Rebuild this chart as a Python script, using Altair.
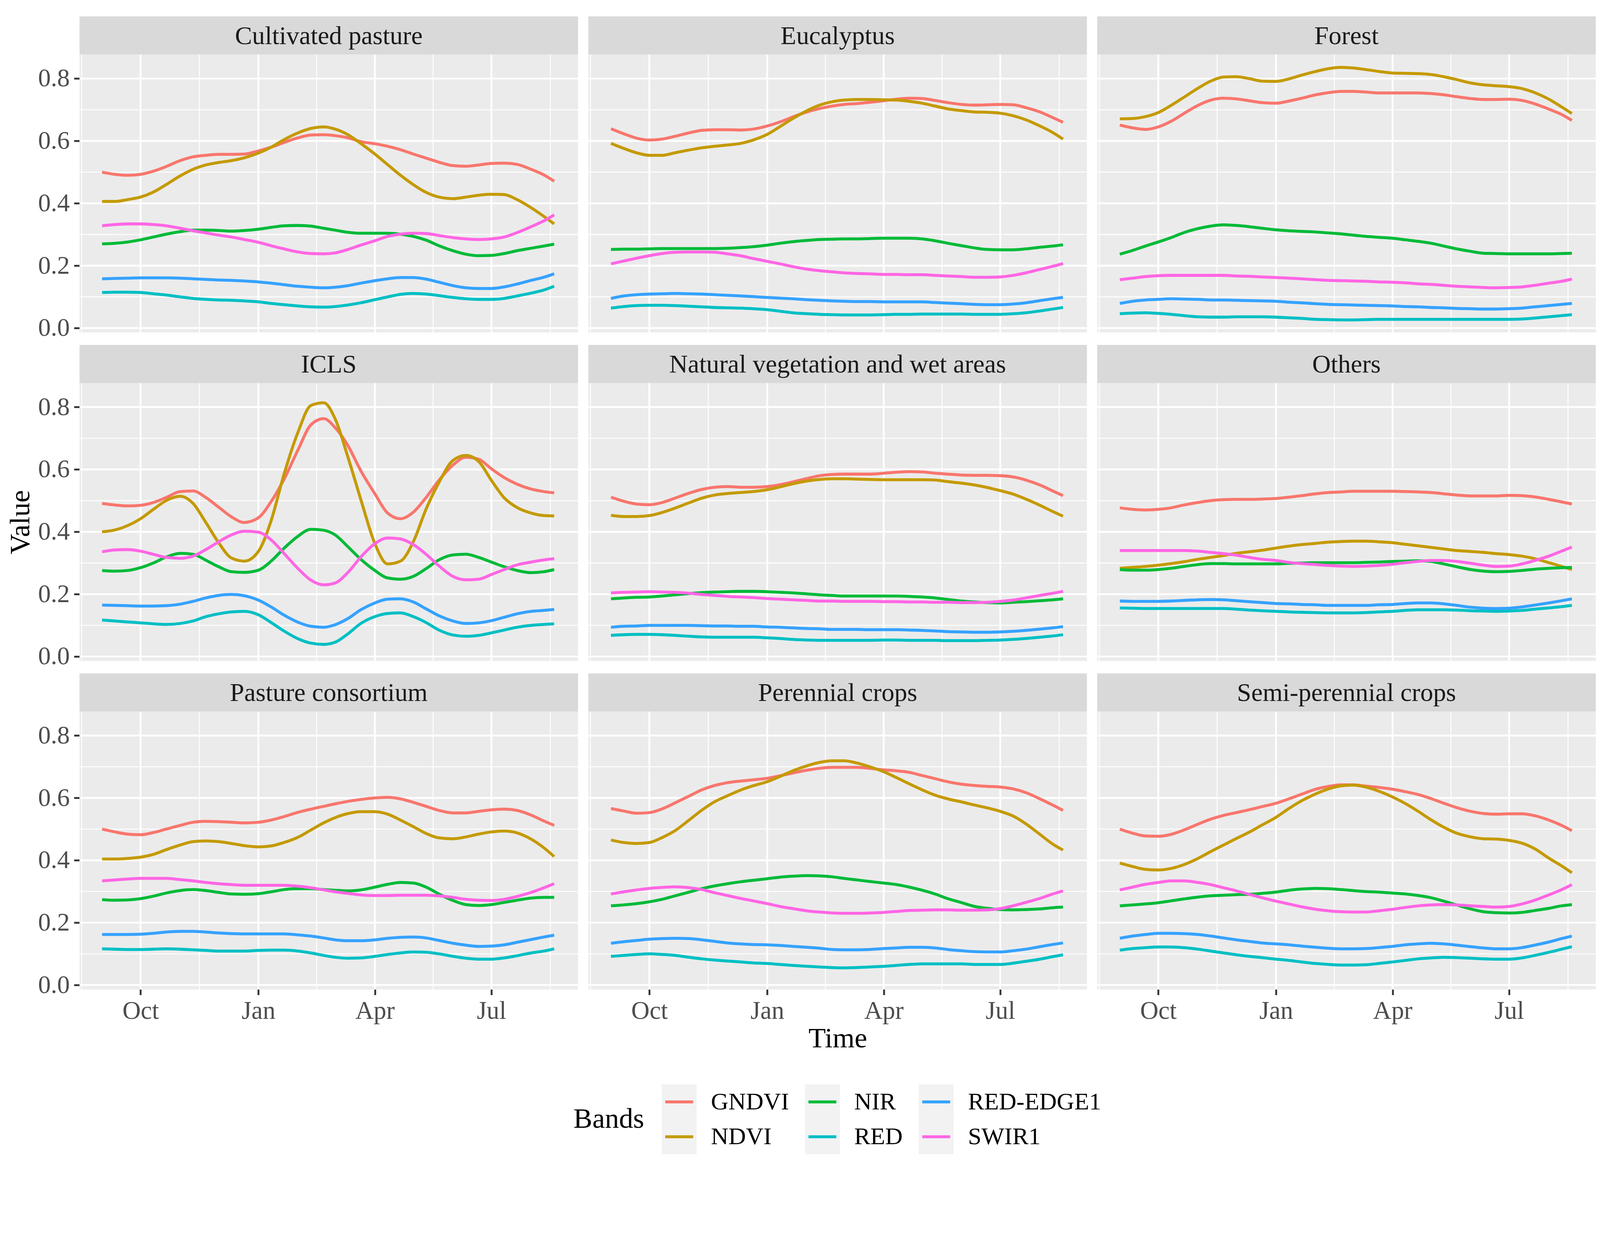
import altair as alt
import pandas as pd

FONT = "Liberation Serif"

DATES = [
    "2019-09-01", "2019-09-11", "2019-09-21", "2019-10-01", "2019-10-11", "2019-10-21",
    "2019-11-01", "2019-11-11", "2019-11-21", "2019-12-01", "2019-12-11", "2019-12-21",
    "2020-01-01", "2020-01-11", "2020-01-21", "2020-02-01", "2020-02-11", "2020-02-21",
    "2020-03-01", "2020-03-11", "2020-03-21", "2020-04-01", "2020-04-11", "2020-04-21",
    "2020-05-01", "2020-05-11", "2020-05-21", "2020-06-01", "2020-06-11", "2020-06-21",
    "2020-07-01", "2020-07-11", "2020-07-21", "2020-08-01", "2020-08-11", "2020-08-19",
]

BANDS = ["GNDVI", "NDVI", "NIR", "RED", "RED-EDGE1", "SWIR1"]
COLORS = ["#F8766D", "#C49A00", "#00BA38", "#00BFC4", "#35A2FF", "#FF66E4"]

CLASSES = [
    "Cultivated pasture", "Eucalyptus", "Forest",
    "ICLS", "Natural vegetation and wet areas", "Others",
    "Pasture consortium", "Perennial crops", "Semi-perennial crops",
]

Y_MAJOR = [0.0, 0.2, 0.4, 0.6, 0.8]
Y_MINOR = [0.1, 0.3, 0.5, 0.7]
Y_LABELS = [0.0, 0.2, 0.4, 0.6, 0.8]
X_MAJOR = ["2019-10-01", "2020-01-01", "2020-04-01", "2020-07-01"]
X_MINOR = ["2019-08-16", "2019-11-16", "2020-02-15T12:00:00Z", "2020-05-16T12:00:00Z", "2020-08-16"]

CULTIVATED_PASTURE = {
    "GNDVI": [0.500, 0.493, 0.490, 0.493, 0.503, 0.518, 0.537, 0.549, 0.554, 0.557, 0.557, 0.558,
              0.568, 0.580, 0.595, 0.610, 0.619, 0.620, 0.617, 0.610, 0.598, 0.591, 0.583, 0.572,
              0.558, 0.545, 0.532, 0.521, 0.519, 0.523, 0.528, 0.529, 0.525, 0.509, 0.491, 0.471],
    "NDVI": [0.406, 0.406, 0.412, 0.420, 0.436, 0.460, 0.488, 0.509, 0.523, 0.531, 0.537, 0.546,
             0.561, 0.580, 0.604, 0.626, 0.640, 0.645, 0.638, 0.620, 0.592, 0.558, 0.524, 0.490,
             0.460, 0.435, 0.420, 0.415, 0.420, 0.426, 0.429, 0.428, 0.412, 0.386, 0.358, 0.334],
    "NIR": [0.270, 0.272, 0.276, 0.283, 0.292, 0.301, 0.309, 0.314, 0.314, 0.313, 0.311, 0.313,
            0.317, 0.323, 0.328, 0.329, 0.327, 0.320, 0.314, 0.307, 0.304, 0.304, 0.304, 0.301,
            0.294, 0.282, 0.264, 0.248, 0.237, 0.232, 0.233, 0.239, 0.248, 0.256, 0.263, 0.269],
    "RED": [0.114, 0.115, 0.115, 0.114, 0.110, 0.106, 0.100, 0.095, 0.092, 0.090, 0.089, 0.087,
            0.084, 0.079, 0.075, 0.071, 0.068, 0.067, 0.069, 0.074, 0.081, 0.091, 0.100, 0.108,
            0.111, 0.109, 0.104, 0.098, 0.094, 0.092, 0.092, 0.095, 0.103, 0.112, 0.122, 0.134],
    "RED-EDGE1": [0.158, 0.159, 0.160, 0.161, 0.161, 0.161, 0.160, 0.158, 0.156, 0.154, 0.153, 0.151,
                  0.148, 0.144, 0.139, 0.134, 0.131, 0.129, 0.131, 0.136, 0.144, 0.152, 0.158, 0.162,
                  0.162, 0.157, 0.147, 0.136, 0.129, 0.127, 0.127, 0.132, 0.141, 0.153, 0.163, 0.174],
    "SWIR1": [0.328, 0.332, 0.334, 0.334, 0.332, 0.328, 0.320, 0.312, 0.305, 0.298, 0.292, 0.284,
              0.275, 0.264, 0.254, 0.244, 0.239, 0.238, 0.241, 0.252, 0.266, 0.280, 0.294, 0.301,
              0.304, 0.303, 0.297, 0.290, 0.286, 0.284, 0.286, 0.292, 0.306, 0.325, 0.344, 0.363],
}

EUCALYPTUS = {
    "GNDVI": [0.639, 0.623, 0.609, 0.603, 0.606, 0.615, 0.626, 0.634, 0.636, 0.636, 0.635, 0.638,
              0.648, 0.661, 0.677, 0.693, 0.704, 0.712, 0.717, 0.720, 0.724, 0.729, 0.734, 0.737,
              0.736, 0.730, 0.723, 0.717, 0.715, 0.716, 0.717, 0.716, 0.707, 0.693, 0.675, 0.660],
    "NDVI": [0.592, 0.576, 0.562, 0.554, 0.554, 0.562, 0.571, 0.578, 0.583, 0.587, 0.592, 0.603,
             0.621, 0.646, 0.672, 0.697, 0.715, 0.726, 0.731, 0.733, 0.733, 0.732, 0.731, 0.727,
             0.721, 0.712, 0.703, 0.697, 0.693, 0.692, 0.689, 0.681, 0.668, 0.648, 0.627, 0.606],
    "NIR": [0.252, 0.253, 0.253, 0.254, 0.255, 0.255, 0.255, 0.255, 0.255, 0.256, 0.258, 0.261,
            0.266, 0.272, 0.277, 0.281, 0.284, 0.285, 0.286, 0.286, 0.287, 0.288, 0.288, 0.288,
            0.286, 0.280, 0.272, 0.264, 0.257, 0.252, 0.251, 0.251, 0.254, 0.259, 0.263, 0.267],
    "RED": [0.064, 0.069, 0.072, 0.073, 0.073, 0.072, 0.070, 0.068, 0.066, 0.065, 0.064, 0.062,
            0.059, 0.054, 0.049, 0.046, 0.044, 0.043, 0.042, 0.042, 0.042, 0.043, 0.044, 0.044,
            0.045, 0.045, 0.045, 0.045, 0.044, 0.044, 0.044, 0.046, 0.049, 0.055, 0.061, 0.066],
    "RED-EDGE1": [0.095, 0.103, 0.107, 0.109, 0.110, 0.111, 0.110, 0.109, 0.107, 0.105, 0.103, 0.101,
                  0.098, 0.096, 0.094, 0.091, 0.089, 0.087, 0.086, 0.085, 0.085, 0.084, 0.084, 0.084,
                  0.084, 0.082, 0.080, 0.078, 0.076, 0.075, 0.075, 0.077, 0.081, 0.088, 0.094, 0.098],
    "SWIR1": [0.206, 0.215, 0.224, 0.232, 0.239, 0.243, 0.244, 0.244, 0.243, 0.238, 0.232, 0.223,
              0.214, 0.206, 0.197, 0.189, 0.184, 0.180, 0.177, 0.175, 0.174, 0.172, 0.172, 0.171,
              0.171, 0.169, 0.167, 0.165, 0.163, 0.163, 0.164, 0.169, 0.177, 0.188, 0.198, 0.207],
}

FOREST = {
    "GNDVI": [0.651, 0.642, 0.637, 0.645, 0.663, 0.688, 0.714, 0.731, 0.737, 0.735, 0.729, 0.723,
              0.721, 0.728, 0.737, 0.748, 0.755, 0.759, 0.759, 0.757, 0.754, 0.754, 0.754, 0.754,
              0.752, 0.748, 0.742, 0.736, 0.733, 0.733, 0.734, 0.730, 0.719, 0.702, 0.685, 0.666],
    "NDVI": [0.671, 0.672, 0.678, 0.691, 0.714, 0.740, 0.769, 0.792, 0.805, 0.806, 0.800, 0.792,
             0.791, 0.799, 0.811, 0.823, 0.832, 0.836, 0.834, 0.829, 0.823, 0.818, 0.817, 0.816,
             0.813, 0.806, 0.797, 0.786, 0.780, 0.777, 0.774, 0.768, 0.755, 0.734, 0.709, 0.688],
    "NIR": [0.237, 0.249, 0.263, 0.276, 0.290, 0.306, 0.319, 0.327, 0.331, 0.329, 0.325, 0.320,
            0.315, 0.312, 0.310, 0.308, 0.305, 0.302, 0.298, 0.294, 0.291, 0.288, 0.283, 0.278,
            0.272, 0.263, 0.254, 0.246, 0.240, 0.239, 0.238, 0.238, 0.238, 0.238, 0.239, 0.240],
    "RED": [0.046, 0.048, 0.049, 0.047, 0.044, 0.040, 0.036, 0.035, 0.035, 0.036, 0.036, 0.036,
            0.035, 0.033, 0.031, 0.028, 0.027, 0.026, 0.026, 0.027, 0.028, 0.028, 0.028, 0.028,
            0.028, 0.028, 0.028, 0.028, 0.028, 0.028, 0.028, 0.029, 0.032, 0.036, 0.040, 0.043],
    "RED-EDGE1": [0.079, 0.086, 0.090, 0.092, 0.094, 0.093, 0.092, 0.090, 0.090, 0.089, 0.088, 0.087,
                  0.086, 0.083, 0.081, 0.078, 0.076, 0.075, 0.074, 0.073, 0.072, 0.071, 0.069, 0.068,
                  0.066, 0.065, 0.063, 0.062, 0.061, 0.061, 0.062, 0.064, 0.068, 0.072, 0.076, 0.079],
    "SWIR1": [0.155, 0.160, 0.165, 0.168, 0.169, 0.169, 0.169, 0.169, 0.169, 0.167, 0.166, 0.164,
              0.162, 0.160, 0.158, 0.155, 0.153, 0.152, 0.151, 0.150, 0.148, 0.147, 0.145, 0.142,
              0.140, 0.137, 0.134, 0.132, 0.130, 0.129, 0.130, 0.132, 0.137, 0.144, 0.150, 0.157],
}

ICLS = {
    "GNDVI": [0.491, 0.486, 0.483, 0.485, 0.494, 0.510, 0.529, 0.531, 0.510, 0.479, 0.448, 0.430,
              0.445, 0.497, 0.568, 0.663, 0.743, 0.763, 0.734, 0.676, 0.596, 0.522, 0.460, 0.442,
              0.463, 0.510, 0.565, 0.614, 0.639, 0.633, 0.602, 0.574, 0.553, 0.537, 0.529, 0.525],
    "NDVI": [0.400, 0.406, 0.420, 0.442, 0.472, 0.500, 0.514, 0.491, 0.430, 0.365, 0.316, 0.306,
             0.337, 0.436, 0.584, 0.720, 0.805, 0.814, 0.762, 0.639, 0.504, 0.362, 0.297, 0.306,
             0.368, 0.473, 0.558, 0.629, 0.645, 0.626, 0.565, 0.509, 0.478, 0.460, 0.452, 0.451],
    "NIR": [0.276, 0.274, 0.276, 0.285, 0.300, 0.319, 0.331, 0.328, 0.309, 0.288, 0.272, 0.270,
            0.277, 0.306, 0.347, 0.386, 0.408, 0.405, 0.390, 0.352, 0.312, 0.276, 0.252, 0.248,
            0.257, 0.282, 0.310, 0.326, 0.328, 0.318, 0.303, 0.288, 0.276, 0.269, 0.272, 0.279],
    "RED": [0.117, 0.114, 0.111, 0.108, 0.105, 0.103, 0.106, 0.114, 0.128, 0.137, 0.143, 0.145,
            0.134, 0.109, 0.082, 0.057, 0.043, 0.039, 0.046, 0.073, 0.106, 0.128, 0.138, 0.140,
            0.128, 0.109, 0.085, 0.069, 0.065, 0.068, 0.076, 0.085, 0.094, 0.100, 0.103, 0.105],
    "RED-EDGE1": [0.165, 0.164, 0.163, 0.162, 0.162, 0.163, 0.168, 0.177, 0.188, 0.196, 0.199, 0.195,
                  0.181, 0.159, 0.133, 0.110, 0.097, 0.094, 0.102, 0.122, 0.150, 0.172, 0.184, 0.185,
                  0.175, 0.153, 0.131, 0.114, 0.106, 0.108, 0.115, 0.126, 0.137, 0.145, 0.148, 0.151],
    "SWIR1": [0.336, 0.342, 0.343, 0.338, 0.328, 0.318, 0.315, 0.322, 0.343, 0.368, 0.390, 0.402,
              0.399, 0.374, 0.331, 0.282, 0.245, 0.230, 0.236, 0.270, 0.319, 0.362, 0.380, 0.377,
              0.359, 0.328, 0.291, 0.257, 0.246, 0.248, 0.263, 0.279, 0.294, 0.303, 0.310, 0.314],
}

NATURAL_VEGETATION = {
    "GNDVI": [0.511, 0.498, 0.489, 0.487, 0.494, 0.508, 0.524, 0.536, 0.543, 0.545, 0.543, 0.543,
              0.545, 0.551, 0.560, 0.571, 0.580, 0.584, 0.585, 0.585, 0.585, 0.588, 0.591, 0.593,
              0.592, 0.588, 0.585, 0.582, 0.581, 0.581, 0.580, 0.576, 0.566, 0.550, 0.531, 0.516],
    "NDVI": [0.453, 0.449, 0.449, 0.452, 0.462, 0.476, 0.493, 0.508, 0.518, 0.523, 0.526, 0.529,
             0.535, 0.544, 0.554, 0.563, 0.568, 0.570, 0.570, 0.569, 0.568, 0.567, 0.567, 0.567,
             0.567, 0.566, 0.561, 0.556, 0.550, 0.542, 0.532, 0.521, 0.505, 0.485, 0.465, 0.450],
    "NIR": [0.185, 0.188, 0.190, 0.191, 0.194, 0.198, 0.202, 0.205, 0.207, 0.208, 0.209, 0.209,
            0.208, 0.206, 0.204, 0.201, 0.198, 0.196, 0.194, 0.194, 0.194, 0.194, 0.194, 0.193,
            0.191, 0.188, 0.183, 0.178, 0.175, 0.173, 0.172, 0.174, 0.176, 0.179, 0.182, 0.185],
    "RED": [0.068, 0.070, 0.071, 0.071, 0.070, 0.068, 0.065, 0.063, 0.062, 0.062, 0.062, 0.062,
            0.060, 0.058, 0.055, 0.053, 0.052, 0.052, 0.052, 0.052, 0.052, 0.053, 0.053, 0.052,
            0.052, 0.052, 0.051, 0.051, 0.051, 0.052, 0.053, 0.055, 0.058, 0.062, 0.066, 0.070],
    "RED-EDGE1": [0.094, 0.097, 0.098, 0.100, 0.100, 0.100, 0.100, 0.099, 0.098, 0.098, 0.097, 0.097,
                  0.095, 0.094, 0.092, 0.090, 0.089, 0.087, 0.087, 0.087, 0.086, 0.086, 0.086, 0.085,
                  0.084, 0.082, 0.080, 0.079, 0.078, 0.078, 0.079, 0.081, 0.084, 0.088, 0.092, 0.096],
    "SWIR1": [0.204, 0.206, 0.207, 0.208, 0.207, 0.206, 0.203, 0.199, 0.196, 0.193, 0.191, 0.189,
              0.186, 0.184, 0.182, 0.180, 0.178, 0.178, 0.177, 0.177, 0.177, 0.176, 0.176, 0.175,
              0.175, 0.174, 0.174, 0.173, 0.173, 0.174, 0.177, 0.181, 0.188, 0.196, 0.203, 0.209],
}

OTHERS = {
    "GNDVI": [0.477, 0.472, 0.470, 0.472, 0.477, 0.486, 0.494, 0.500, 0.503, 0.504, 0.504, 0.505,
              0.507, 0.511, 0.516, 0.522, 0.526, 0.528, 0.530, 0.530, 0.530, 0.530, 0.529, 0.528,
              0.526, 0.522, 0.518, 0.515, 0.515, 0.515, 0.517, 0.516, 0.512, 0.504, 0.496, 0.489],
    "NDVI": [0.283, 0.286, 0.289, 0.293, 0.298, 0.304, 0.312, 0.318, 0.324, 0.331, 0.336, 0.341,
             0.348, 0.354, 0.359, 0.363, 0.367, 0.369, 0.370, 0.370, 0.368, 0.365, 0.360, 0.355,
             0.350, 0.345, 0.340, 0.337, 0.334, 0.330, 0.327, 0.322, 0.314, 0.301, 0.289, 0.279],
    "NIR": [0.279, 0.277, 0.277, 0.279, 0.283, 0.289, 0.295, 0.298, 0.298, 0.297, 0.297, 0.297,
            0.297, 0.299, 0.300, 0.301, 0.301, 0.301, 0.301, 0.302, 0.303, 0.305, 0.306, 0.307,
            0.305, 0.297, 0.288, 0.279, 0.274, 0.272, 0.273, 0.276, 0.280, 0.283, 0.285, 0.286],
    "RED": [0.156, 0.155, 0.154, 0.154, 0.154, 0.154, 0.154, 0.154, 0.154, 0.152, 0.149, 0.147,
            0.145, 0.143, 0.142, 0.141, 0.140, 0.140, 0.140, 0.141, 0.143, 0.145, 0.148, 0.150,
            0.150, 0.150, 0.149, 0.147, 0.146, 0.145, 0.146, 0.148, 0.152, 0.156, 0.160, 0.164],
    "RED-EDGE1": [0.178, 0.177, 0.177, 0.177, 0.178, 0.180, 0.182, 0.183, 0.182, 0.179, 0.176, 0.173,
                  0.170, 0.169, 0.167, 0.166, 0.164, 0.164, 0.164, 0.164, 0.166, 0.167, 0.170, 0.172,
                  0.172, 0.169, 0.164, 0.158, 0.155, 0.154, 0.155, 0.159, 0.165, 0.172, 0.179, 0.185],
    "SWIR1": [0.340, 0.340, 0.340, 0.340, 0.340, 0.340, 0.338, 0.334, 0.330, 0.325, 0.318, 0.312,
              0.308, 0.302, 0.298, 0.295, 0.292, 0.290, 0.289, 0.290, 0.292, 0.296, 0.301, 0.305,
              0.308, 0.308, 0.305, 0.299, 0.293, 0.289, 0.290, 0.297, 0.308, 0.322, 0.338, 0.351],
}

PASTURE_CONSORTIUM = {
    "GNDVI": [0.500, 0.491, 0.484, 0.482, 0.489, 0.500, 0.512, 0.522, 0.525, 0.524, 0.522, 0.520,
              0.522, 0.529, 0.540, 0.554, 0.564, 0.573, 0.581, 0.589, 0.595, 0.600, 0.602, 0.597,
              0.586, 0.573, 0.560, 0.552, 0.552, 0.557, 0.562, 0.564, 0.560, 0.545, 0.526, 0.512],
    "NDVI": [0.404, 0.404, 0.406, 0.410, 0.419, 0.434, 0.449, 0.460, 0.462, 0.460, 0.454, 0.447,
             0.443, 0.446, 0.457, 0.474, 0.497, 0.520, 0.537, 0.550, 0.556, 0.556, 0.548, 0.529,
             0.508, 0.486, 0.472, 0.469, 0.475, 0.484, 0.491, 0.494, 0.488, 0.468, 0.440, 0.412],
    "NIR": [0.274, 0.272, 0.273, 0.277, 0.285, 0.295, 0.303, 0.306, 0.303, 0.297, 0.292, 0.291,
            0.293, 0.299, 0.306, 0.309, 0.309, 0.306, 0.304, 0.302, 0.305, 0.314, 0.323, 0.329,
            0.327, 0.314, 0.292, 0.271, 0.258, 0.255, 0.258, 0.265, 0.272, 0.279, 0.281, 0.281],
    "RED": [0.116, 0.115, 0.114, 0.114, 0.115, 0.116, 0.115, 0.113, 0.111, 0.109, 0.109, 0.109,
            0.111, 0.112, 0.112, 0.109, 0.103, 0.095, 0.089, 0.086, 0.087, 0.092, 0.098, 0.103,
            0.106, 0.105, 0.100, 0.092, 0.086, 0.083, 0.083, 0.087, 0.094, 0.103, 0.109, 0.116],
    "RED-EDGE1": [0.162, 0.162, 0.162, 0.163, 0.166, 0.170, 0.172, 0.172, 0.170, 0.167, 0.165, 0.164,
                  0.164, 0.164, 0.164, 0.161, 0.157, 0.151, 0.145, 0.142, 0.142, 0.145, 0.150, 0.153,
                  0.154, 0.151, 0.143, 0.134, 0.128, 0.124, 0.125, 0.129, 0.137, 0.146, 0.154, 0.160],
    "SWIR1": [0.334, 0.337, 0.340, 0.342, 0.342, 0.342, 0.338, 0.334, 0.329, 0.325, 0.322, 0.320,
              0.320, 0.320, 0.320, 0.317, 0.312, 0.305, 0.299, 0.294, 0.289, 0.287, 0.287, 0.288,
              0.288, 0.288, 0.286, 0.281, 0.275, 0.272, 0.271, 0.275, 0.284, 0.297, 0.312, 0.325],
}

PERENNIAL_CROPS = {
    "GNDVI": [0.566, 0.558, 0.551, 0.553, 0.565, 0.584, 0.606, 0.626, 0.640, 0.649, 0.654, 0.658,
              0.663, 0.671, 0.680, 0.689, 0.695, 0.698, 0.698, 0.698, 0.695, 0.690, 0.687, 0.682,
              0.672, 0.662, 0.652, 0.644, 0.640, 0.637, 0.635, 0.629, 0.617, 0.597, 0.577, 0.560],
    "NDVI": [0.465, 0.457, 0.454, 0.457, 0.473, 0.495, 0.529, 0.561, 0.588, 0.607, 0.625, 0.639,
             0.652, 0.669, 0.687, 0.703, 0.714, 0.719, 0.719, 0.712, 0.700, 0.684, 0.665, 0.645,
             0.626, 0.609, 0.597, 0.587, 0.577, 0.568, 0.557, 0.542, 0.517, 0.483, 0.452, 0.433],
    "NIR": [0.254, 0.257, 0.261, 0.267, 0.275, 0.286, 0.298, 0.309, 0.318, 0.325, 0.331, 0.336,
            0.341, 0.346, 0.349, 0.351, 0.350, 0.347, 0.342, 0.337, 0.332, 0.327, 0.322, 0.314,
            0.304, 0.292, 0.277, 0.264, 0.252, 0.246, 0.242, 0.241, 0.242, 0.244, 0.248, 0.250],
    "RED": [0.092, 0.095, 0.098, 0.100, 0.098, 0.095, 0.089, 0.084, 0.080, 0.077, 0.074, 0.071,
            0.069, 0.066, 0.063, 0.060, 0.058, 0.056, 0.055, 0.056, 0.058, 0.060, 0.063, 0.066,
            0.068, 0.068, 0.068, 0.068, 0.066, 0.066, 0.066, 0.070, 0.076, 0.083, 0.091, 0.097],
    "RED-EDGE1": [0.134, 0.139, 0.143, 0.147, 0.149, 0.150, 0.149, 0.145, 0.140, 0.135, 0.132, 0.130,
                  0.129, 0.127, 0.124, 0.121, 0.118, 0.114, 0.113, 0.113, 0.114, 0.117, 0.119, 0.121,
                  0.121, 0.119, 0.114, 0.110, 0.107, 0.106, 0.106, 0.110, 0.115, 0.123, 0.130, 0.135],
    "SWIR1": [0.292, 0.299, 0.305, 0.310, 0.313, 0.315, 0.312, 0.306, 0.296, 0.287, 0.278, 0.270,
              0.261, 0.252, 0.245, 0.238, 0.234, 0.231, 0.230, 0.230, 0.231, 0.233, 0.236, 0.239,
              0.240, 0.241, 0.241, 0.240, 0.240, 0.241, 0.245, 0.254, 0.265, 0.278, 0.292, 0.302],
}

SEMI_PERENNIAL_CROPS = {
    "GNDVI": [0.500, 0.487, 0.478, 0.477, 0.483, 0.497, 0.516, 0.532, 0.544, 0.553, 0.562, 0.572,
              0.583, 0.597, 0.612, 0.628, 0.637, 0.642, 0.642, 0.638, 0.634, 0.628, 0.620, 0.611,
              0.598, 0.583, 0.569, 0.557, 0.550, 0.548, 0.549, 0.549, 0.543, 0.529, 0.512, 0.495],
    "NDVI": [0.391, 0.380, 0.371, 0.369, 0.374, 0.386, 0.406, 0.428, 0.449, 0.470, 0.490, 0.513,
             0.538, 0.566, 0.591, 0.613, 0.629, 0.639, 0.641, 0.635, 0.622, 0.603, 0.582, 0.557,
             0.530, 0.506, 0.487, 0.475, 0.469, 0.468, 0.464, 0.455, 0.437, 0.407, 0.382, 0.360],
    "NIR": [0.254, 0.257, 0.260, 0.264, 0.270, 0.276, 0.282, 0.286, 0.288, 0.290, 0.291, 0.294,
            0.298, 0.304, 0.308, 0.310, 0.309, 0.306, 0.303, 0.300, 0.298, 0.295, 0.292, 0.287,
            0.280, 0.269, 0.257, 0.244, 0.235, 0.232, 0.231, 0.233, 0.239, 0.246, 0.254, 0.258],
    "RED": [0.112, 0.117, 0.120, 0.122, 0.122, 0.120, 0.115, 0.109, 0.103, 0.097, 0.092, 0.088,
            0.083, 0.079, 0.074, 0.069, 0.066, 0.064, 0.064, 0.065, 0.069, 0.074, 0.079, 0.084,
            0.087, 0.089, 0.088, 0.086, 0.084, 0.083, 0.083, 0.087, 0.095, 0.105, 0.115, 0.123],
    "RED-EDGE1": [0.150, 0.157, 0.162, 0.166, 0.166, 0.165, 0.162, 0.157, 0.151, 0.145, 0.140, 0.135,
                  0.132, 0.129, 0.125, 0.121, 0.118, 0.116, 0.116, 0.117, 0.120, 0.124, 0.129, 0.132,
                  0.134, 0.132, 0.128, 0.123, 0.119, 0.116, 0.116, 0.120, 0.128, 0.138, 0.149, 0.157],
    "SWIR1": [0.305, 0.314, 0.323, 0.329, 0.334, 0.334, 0.329, 0.322, 0.312, 0.302, 0.291, 0.280,
              0.269, 0.260, 0.251, 0.243, 0.238, 0.235, 0.234, 0.234, 0.238, 0.243, 0.249, 0.254,
              0.257, 0.258, 0.257, 0.254, 0.252, 0.250, 0.252, 0.260, 0.272, 0.289, 0.306, 0.322],
}

SERIES_BY_CLASS = {
    "Cultivated pasture": CULTIVATED_PASTURE,
    "Eucalyptus": EUCALYPTUS,
    "Forest": FOREST,
    "ICLS": ICLS,
    "Natural vegetation and wet areas": NATURAL_VEGETATION,
    "Others": OTHERS,
    "Pasture consortium": PASTURE_CONSORTIUM,
    "Perennial crops": PERENNIAL_CROPS,
    "Semi-perennial crops": SEMI_PERENNIAL_CROPS,
}

# ---------------- build long table ----------------
rows = []
for cls, series in SERIES_BY_CLASS.items():
    for band in BANDS:
        vals = series[band]
        if len(vals) != len(DATES):
            raise ValueError(f"{cls} {band}: {len(vals)} values")
        for dt, v in zip(DATES, vals):
            rows.append({"cls": cls, "band": band, "date": dt, "value": v})
df = pd.DataFrame(rows)

# ---------------- layout constants ----------------
W = 1358
H = 757
STRIP = 104
GAP = 34
TICK_FS = 69
STRIP_FS = 70
LEG_FS = 66
TITLE_FS = 77
LABEL_GREY = "#4D4D4D"
TICK_COL = "#333333"

x_scale = alt.Scale(
    type="utc",
    domain=[alt.DateTime(year=2019, month=8, date=14, hours=8, utc=True),
            alt.DateTime(year=2020, month=9, date=6, hours=16, utc=True)],
)
y_scale = alt.Scale(domain=[-0.014, 0.877], nice=False, zero=False)
color_scale = alt.Scale(domain=BANDS, range=COLORS)

x_tick_values = [alt.DateTime(year=2019, month=10, date=1, utc=True),
                 alt.DateTime(year=2020, month=1, date=1, utc=True),
                 alt.DateTime(year=2020, month=4, date=1, utc=True),
                 alt.DateTime(year=2020, month=7, date=1, utc=True)]

ymaj_df = pd.DataFrame({"value": Y_MAJOR})
ymin_df = pd.DataFrame({"value": Y_MINOR})
xmaj_df = pd.DataFrame({"date": X_MAJOR})
xmin_df = pd.DataFrame({"date": X_MINOR})


def x_enc(row, col):
    if row == 2:
        ax = alt.Axis(values=x_tick_values, format="%b", grid=False, domain=False,
                      labelFontSize=TICK_FS, labelColor=LABEL_GREY, labelFont=FONT,
                      tickColor=TICK_COL, tickWidth=5, tickSize=15, labelPadding=10,
                      titleFontSize=TITLE_FS, titleFont=FONT, titleFontWeight="normal",
                      titleColor="black", titlePadding=2, labelFlush=False)
        return alt.X("date:T", scale=x_scale, axis=ax, title=("Time" if col == 1 else None))
    return alt.X("date:T", scale=x_scale, axis=None)


def y_enc(row, col):
    if col == 0:
        ax = alt.Axis(values=Y_LABELS, format=".1f", grid=False, domain=False,
                      labelFontSize=TICK_FS, labelColor=LABEL_GREY, labelFont=FONT,
                      tickColor=TICK_COL, tickWidth=5, tickSize=15, labelPadding=12,
                      titleFontSize=TITLE_FS, titleFont=FONT, titleFontWeight="normal",
                      titleColor="black", titlePadding=8, labelFlush=False)
        return alt.Y("value:Q", scale=y_scale, axis=ax, title=("Value" if row == 1 else None))
    return alt.Y("value:Q", scale=y_scale, axis=None)


def plot_panel(idx, name):
    row, col = divmod(idx, 3)
    d = df[df["cls"] == name]
    xe = x_enc(row, col)
    ye = y_enc(row, col)
    g_ymin = alt.Chart(ymin_df).mark_rule(color="white", strokeWidth=2.5).encode(y=ye)
    g_ymaj = alt.Chart(ymaj_df).mark_rule(color="white", strokeWidth=5).encode(y=ye)
    g_xmin = alt.Chart(xmin_df).mark_rule(color="white", strokeWidth=2.5).encode(x=xe)
    g_xmaj = alt.Chart(xmaj_df).mark_rule(color="white", strokeWidth=5).encode(x=xe)
    lines = alt.Chart(d).mark_line(strokeWidth=8, interpolate="monotone").encode(
        x=xe, y=ye,
        color=alt.Color("band:N", scale=color_scale, legend=None),
        detail="band:N",
    )
    return alt.layer(g_ymin, g_ymaj, g_xmin, g_xmaj, lines).properties(
        width=W, height=H,
        view=alt.ViewBackground(fill="#EBEBEB", stroke=None),
    )


def strip_panel(name):
    sd = pd.DataFrame({"cls": [name]})
    rect = alt.Chart(sd).mark_rect(color="#D9D9D9").encode(
        x=alt.value(0), x2=alt.value(W), y=alt.value(GAP), y2=alt.value(GAP + STRIP))
    txt = alt.Chart(sd).mark_text(font=FONT, fontSize=STRIP_FS, color="#1A1A1A",
                                  align="center", baseline="middle").encode(
        x=alt.value(W / 2), y=alt.value(GAP + STRIP / 2 + 2), text="cls:N")
    return alt.layer(rect, txt).properties(width=W, height=GAP + STRIP)


cells = []
for r in range(3):
    for c in range(3):
        cells.append(strip_panel(CLASSES[r * 3 + c]))
    for c in range(3):
        cells.append(plot_panel(r * 3 + c, CLASSES[r * 3 + c]))

grid = alt.concat(*cells, columns=3, spacing={"row": 0, "column": 28}, bounds="flush")

# ---------------- manual legend (ggplot style) ----------------
KEY = 95
LEG_H = 2 * KEY
leg_y = alt.Y("row:Q", scale=alt.Scale(domain=[-0.5, 1.5], range=[0, LEG_H]), axis=None)


def legend_column(bands, width):
    ld = pd.DataFrame({"band": bands, "row": list(range(len(bands)))})
    bg = alt.Chart(ld).mark_square(size=KEY * KEY, color="#F2F2F2", opacity=1).encode(
        x=alt.value(KEY / 2), y=leg_y)
    ln = alt.Chart(ld).mark_point(shape="stroke", size=76 * 76, strokeWidth=8,
                                  filled=False, opacity=1).encode(
        x=alt.value(KEY / 2), y=leg_y,
        color=alt.Color("band:N", scale=color_scale, legend=None))
    tx = alt.Chart(ld).mark_text(font=FONT, fontSize=LEG_FS, color="black",
                                 align="left", baseline="middle").encode(
        x=alt.value(134), y=leg_y, text="band:N")
    return alt.layer(bg, ln, tx).properties(width=width, height=LEG_H)


title_df = pd.DataFrame({"t": ["Bands"]})
leg_title = alt.Chart(title_df).mark_text(font=FONT, fontSize=TITLE_FS, color="black",
                                          align="right", baseline="middle").encode(
    x=alt.value(1538), y=alt.value(LEG_H / 2), text="t:N").properties(width=1579, height=LEG_H)

legend = alt.hconcat(
    leg_title,
    legend_column(BANDS[0:2], 383),
    legend_column(BANDS[2:4], 303),
    legend_column(BANDS[4:6], 500),
    spacing=0,
)

chart = alt.vconcat(grid, legend, spacing=87).properties(
    padding={"left": 8, "top": -95, "right": 0, "bottom": 0}
).configure(font=FONT).configure_view(stroke=None)

chart.save("out.html", embed_options={"renderer": "svg", "actions": False})
